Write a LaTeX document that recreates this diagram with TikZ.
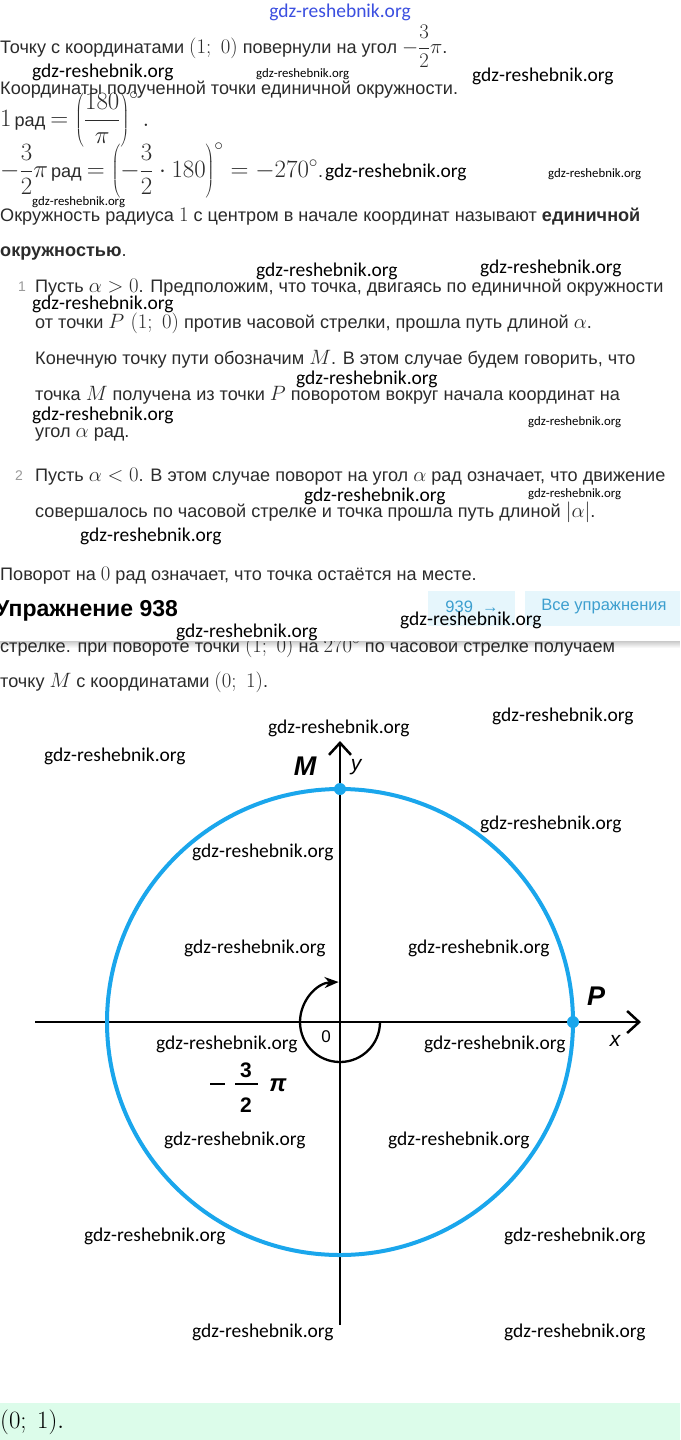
\documentclass[tikz,border=0pt]{standalone}
\usepackage[no-math]{fontspec}
\setmainfont{Liberation Sans}
\newfontfamily\wmfont{Carlito}
\usetikzlibrary{arrows.meta}
\definecolor{textc}{HTML}{2B2B2B}
\definecolor{circc}{HTML}{1AA6EC}
\definecolor{numc}{HTML}{9A9A9A}
\definecolor{btnbg}{HTML}{E6F6FC}
\definecolor{btntext}{HTML}{3D9FCF}
\definecolor{greenbg}{HTML}{DCFCEA}
\definecolor{wmblue}{HTML}{3B4FE0}
\newcommand\mm[1]{{\fontsize{22.3}{23}\selectfont$#1$}}
\newcommand\mmb[1]{{\fontsize{25}{26}\selectfont$#1$}}
\begin{document}
\begin{tikzpicture}[x=1pt,y=-1pt,
  txt/.style={anchor=base west,inner sep=0pt,text=textc,font=\fontsize{18.1}{20}\selectfont},
  num/.style={anchor=base west,inner sep=0pt,text=numc,font=\fontsize{14}{16}\selectfont},
  wmbig/.style={anchor=west,inner sep=0pt,text=black,font=\wmfont\fontsize{19.5}{20}\selectfont},
  wmsmall/.style={anchor=west,inner sep=0pt,text=black,font=\wmfont\fontsize{12.8}{13}\selectfont},
  axis/.style={line width=2.5pt,black,-{Straight Barb[length=12pt,width=22pt,line width=2.5pt]}},
  lbl/.style={inner sep=0pt,font=\fontsize{27}{27}\selectfont\bfseries\itshape},
  axl/.style={inner sep=0pt,font=\fontsize{21}{21}\selectfont\itshape},
  dot/.style={circle,fill=circc,inner sep=0pt,minimum size=12pt}
]
\useasboundingbox (0,0) rectangle (680,1440);
\fill[white] (0,0) rectangle (680,1440);

% top watermark
\node[inner sep=0pt,text=wmblue,font=\wmfont\fontsize{19.5}{20}\selectfont] (wtop) at (340,12) {gdz-reshebnik.org};

% text block
\node[txt] (l1) at (0,53) {Точку с координатами \mm{(1;\ 0)} повернули на угол \mm{-\displaystyle\frac{3}{2}\pi}.};
\node[txt] (l2) at (0,94) {Координаты полученной точки единичной окружности.};
\node[txt] (l3) at (0,126) {\mmb{1}\,рад \mmb{=\left(\displaystyle\frac{180}{\pi}\right)^{\circ}.}};
\node[txt] (l4) at (0,177) {\mmb{-\displaystyle\frac{3}{2}\pi}\,рад \mmb{=\left(-\displaystyle\frac{3}{2}\cdot 180\right)^{\circ}=-270^{\circ}}.};
\node[txt] (l5) at (0,221) {Окружность радиуса \mm{1} с центром в начале координат называют \textbf{единичной}};
\node[txt] (l6) at (0,256) {\textbf{окружностью}.};
\node[num] (n1) at (18,291) {1};
\node[txt] (l7) at (35,292) {Пусть \mm{\alpha>0}. Предположим, что точка, двигаясь по единичной окружности};
\node[txt] (l8) at (35,328) {от точки \mm{P\ (1;\ 0)} против часовой стрелки, прошла путь длиной \mm{\alpha}.};
\node[txt] (l9) at (35,364) {Конечную точку пути обозначим \mm{M}. В этом случае будем говорить, что};
\node[txt] (l10) at (35,400) {точка \mm{M} получена из точки \mm{P} поворотом вокруг начала координат на};
\node[txt] (l11) at (35,437) {угол \mm{\alpha} рад.};
\node[num] (n2) at (15,480) {2};
\node[txt] (l12) at (35,481) {Пусть \mm{\alpha<0}. В этом случае поворот на угол \mm{\alpha} рад означает, что движение};
\node[txt] (l13) at (35,517) {совершалось по часовой стрелке и точка прошла путь длиной \mm{|\alpha|}.};
\node[txt] (l14) at (0,580) {Поворот на \mm{0} рад означает, что точка остаётся на месте.};

% line partially hidden by header
\node[txt] (l15) at (0,652) {стрелке. при повороте точки \mm{(1;\ 0)} на \mm{270^{\circ}} по часовой стрелке получаем};
% header bar
\fill[white] (0,586) rectangle (680,641);
\foreach \i in {0,...,6}{
  \fill[black,opacity=0.03*(7-\i)] (0,641+\i) rectangle (680,642+\i);
}
\node[anchor=base west,inner sep=0pt,text=black,font=\fontsize{23}{24}\selectfont\bfseries] (hdr) at (-5,616) {Упражнение 938};
\fill[btnbg] (428,591) rectangle (515,626);
\fill[btnbg] (525,591) rectangle (680,626);
\node[inner sep=0pt,text=btntext,font=\fontsize{16.5}{17}\selectfont] (b1) at (472,607) {939 \ {\bfseries\char"2192}};
\node[inner sep=0pt,text=btntext,font=\fontsize{16.5}{17}\selectfont] (b2) at (604,607) {Все упражнения};

\node[txt] (l16) at (0,687) {точку \mm{M} с координатами \mm{(0;\ 1)}.};

% text watermarks
\node[wmbig] (w1) at (32,72) {gdz-reshebnik.org};
\node[wmsmall] (w2) at (256,74) {gdz-reshebnik.org};
\node[wmbig] (w3) at (472,76) {gdz-reshebnik.org};
\node[wmbig] (w4) at (325,172) {gdz-reshebnik.org};
\node[wmsmall] (w5) at (548,174) {gdz-reshebnik.org};
\node[wmsmall] (w6) at (32,202) {gdz-reshebnik.org};
\node[wmbig] (w7) at (256,271) {gdz-reshebnik.org};
\node[wmbig] (w8) at (480,268) {gdz-reshebnik.org};
\node[wmbig] (w9) at (32,304) {gdz-reshebnik.org};
\node[wmbig] (w10) at (296,379) {gdz-reshebnik.org};
\node[wmbig] (w11) at (32,415) {gdz-reshebnik.org};
\node[wmsmall] (w12) at (528,422) {gdz-reshebnik.org};
\node[wmbig] (w13) at (304,496) {gdz-reshebnik.org};
\node[wmsmall] (w14) at (528,494) {gdz-reshebnik.org};
\node[wmbig] (w15) at (80,536) {gdz-reshebnik.org};
\node[wmbig] (w16) at (176,632) {gdz-reshebnik.org};
\node[wmbig] (w17) at (400,620) {gdz-reshebnik.org};

% diagram
\coordinate (O) at (340,1022);
\coordinate (xs) at (35,1022);
\coordinate (xe) at (641,1022);
\coordinate (ys) at (340,1325);
\coordinate (ye) at (340,741);
\draw[axis] (xs) -- (xe);
\draw[axis] (ys) -- (ye);
\draw[circc,line width=4pt] (O) circle[radius=233];
\node[dot] (M) at (340,789) {};
\node[dot] (P) at (573,1022) {};
\draw[line width=2.3pt,-{Stealth[length=14pt,width=11pt]}] (380,1022) arc[start angle=0,end angle=268,radius=40];

\node[lbl] (Ml) at (305,766) {M};
\node[axl] (yl) at (356,767) {y};
\node[lbl] (Pl) at (596,996) {P};
\node[axl] (xl) at (615,1041) {x};
\node[inner sep=0pt,font=\fontsize{17}{17}\selectfont] (zero) at (326,1037) {0};

% -3/2 pi label
\draw[line width=2.2pt] (210,1084) -- (225,1084);
\draw[line width=2.2pt] (235,1084) -- (258,1084);
\node[inner sep=0pt,font=\fontsize{21}{21}\selectfont\bfseries] (f3) at (246,1070) {3};
\node[inner sep=0pt,font=\fontsize{21}{21}\selectfont\bfseries] (f2) at (246,1105) {2};
\node[inner sep=0pt,font=\fontsize{24}{24}\selectfont\bfseries\itshape] (fpi) at (278,1085) {π};

% diagram watermarks
\node[wmbig] (d1) at (268,728) {gdz-reshebnik.org};
\node[wmbig] (d2) at (492,716) {gdz-reshebnik.org};
\node[wmbig] (d3) at (44,756) {gdz-reshebnik.org};
\node[wmbig] (d4) at (480,824) {gdz-reshebnik.org};
\node[wmbig] (d5) at (192,852) {gdz-reshebnik.org};
\node[wmbig] (d6) at (184,948) {gdz-reshebnik.org};
\node[wmbig] (d7) at (408,948) {gdz-reshebnik.org};
\node[wmbig] (d8) at (156,1044) {gdz-reshebnik.org};
\node[wmbig] (d9) at (424,1044) {gdz-reshebnik.org};
\node[wmbig] (d10) at (164,1140) {gdz-reshebnik.org};
\node[wmbig] (d11) at (388,1140) {gdz-reshebnik.org};
\node[wmbig] (d12) at (84,1236) {gdz-reshebnik.org};
\node[wmbig] (d13) at (504,1236) {gdz-reshebnik.org};
\node[wmbig] (d14) at (192,1332) {gdz-reshebnik.org};
\node[wmbig] (d15) at (504,1332) {gdz-reshebnik.org};

% answer box
\fill[greenbg] (0,1403) rectangle (680,1440);
\node[anchor=base west,inner sep=0pt,font=\fontsize{23}{23}\selectfont] (ans) at (0,1428) {$(0;\ 1).$};
\end{tikzpicture}
\end{document}
